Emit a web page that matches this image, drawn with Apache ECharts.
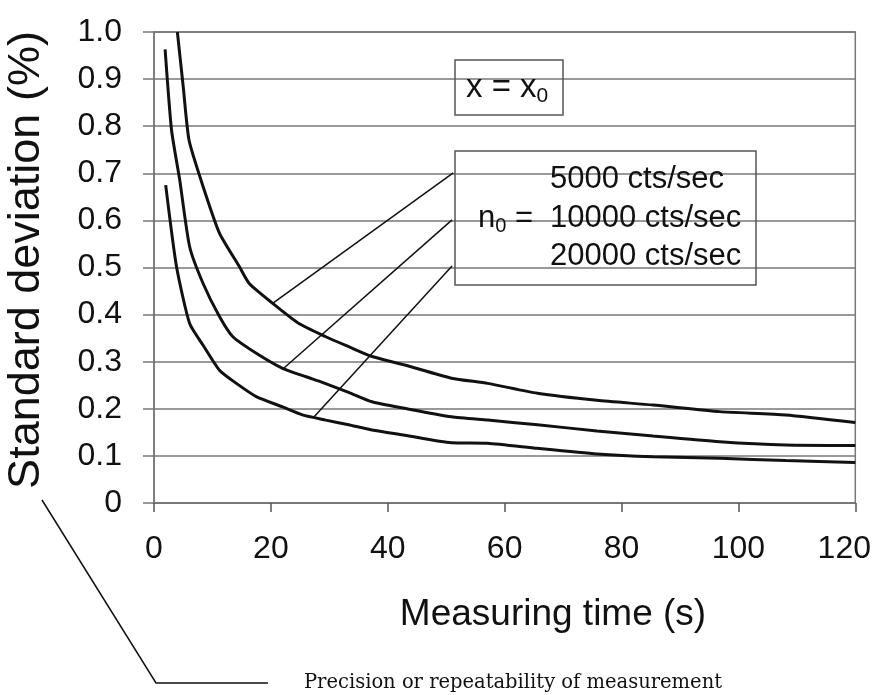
<!DOCTYPE html>
<html>
<head>
<meta charset="utf-8">
<script src="https://cdn.jsdelivr.net/npm/echarts@6/dist/echarts.min.js"></script>
<style>
  html, body { margin: 0; padding: 0; background: #fff; }
  #chart { width: 874px; height: 695px; }
</style>
</head>
<body>
<div id="chart"></div>
<script>
// 5000 cts/sec
let time5000 = [4, 5, 6, 8.4, 11.2, 14.6, 16.3, 20.3, 24.8, 29.4, 33.3, 37.3, 42.9, 50.9, 57.1, 65.6, 75.8, 85.4, 96.8, 108.1, 120];
let sd5000 = [1.0, 0.884, 0.77, 0.672, 0.573, 0.502, 0.466, 0.424, 0.381, 0.353, 0.332, 0.311, 0.293, 0.265, 0.254, 0.233, 0.218, 0.208, 0.194, 0.187, 0.171];

// 10000 cts/sec
let time10000 = [1.9, 3.0, 4.4, 6.1, 8.4, 11.2, 13.5, 17.5, 22, 26, 28.8, 33.3, 37.3, 42.9, 50.9, 57.1, 65.6, 75.8, 85.4, 96.8, 108.1, 120];
let sd10000 = [0.963, 0.792, 0.686, 0.544, 0.466, 0.396, 0.353, 0.318, 0.286, 0.268, 0.256, 0.235, 0.215, 0.201, 0.183, 0.176, 0.166, 0.153, 0.142, 0.130, 0.123, 0.122];

// 20000 cts/sec
let time20000 = [2.0, 3.85, 6.1, 8.4, 11.2, 14.1, 17.5, 22, 25.4, 29.4, 33.3, 37.3, 42.9, 50.9, 57.1, 65.6, 75.8, 85.4, 96.8, 108.1, 120];
let sd20000 = [0.675, 0.502, 0.381, 0.335, 0.282, 0.254, 0.226, 0.204, 0.187, 0.176, 0.166, 0.155, 0.144, 0.128, 0.127, 0.116, 0.104, 0.098, 0.095, 0.090, 0.086];

// leader lines from the legend box to each curve [from, to]
let leaders = [
    [[51.2, 0.701], [20.3, 0.424]],
    [[51.0, 0.601], [22.0, 0.284]],
    [[51.0, 0.503], [27.4, 0.183]]
];

let xTicks = [0, 20, 40, 60, 80, 100, 120];

let pair = (xs, ys) => xs.map((x, i) => [x, ys[i]]);

let lineSeries = (name, data) => ({
    name: name,
    type: 'line',
    data: data,
    showSymbol: false,
    smooth: 0.2,
    lineStyle: { color: '#111', width: 3 },
    z: 5
});

let font = 'Liberation Sans, Arial, sans-serif';

let option = {
    backgroundColor: '#fff',
    animation: false,
    grid: {
        left: 154, right: 14, top: 32, bottom: 192,
        show: true, borderColor: '#777', borderWidth: 1.5
    },
    xAxis: {
        type: 'value',
        min: 0, max: 120, interval: 20,
        axisLine: { show: true, lineStyle: { color: '#777', width: 1.5 } },
        axisTick: { show: true, length: 9, lineStyle: { color: '#555', width: 1.5 } },
        splitLine: { show: false },
        axisLabel: {
            margin: 30,
            fontSize: 32, color: '#111', fontFamily: font,
            formatter: v => v === xTicks[xTicks.length - 1] ? '{e|' + v + '}' : String(v),
            rich: { e: { fontSize: 32, color: '#111', fontFamily: font, padding: [0, 22, 0, 0] } }
        }
    },
    yAxis: {
        type: 'value',
        min: 0, max: 1, interval: 0.1,
        axisLine: { show: true, lineStyle: { color: '#777', width: 1.5 } },
        axisTick: { show: true, length: 11, lineStyle: { color: '#777', width: 1.5 } },
        splitLine: { show: true, lineStyle: { color: '#777', width: 1.5 } },
        axisLabel: {
            margin: 32,
            fontSize: 32, color: '#111', fontFamily: font,
            formatter: v => v === 0 ? '0' : v.toFixed(1)
        }
    },
    series: [
        lineSeries('5000 cts/sec', pair(time5000, sd5000)),
        lineSeries('10000 cts/sec', pair(time10000, sd10000)),
        lineSeries('20000 cts/sec', pair(time20000, sd20000)),
        {
            type: 'line',
            data: [],
            markLine: {
                silent: true,
                symbol: ['none', 'none'],
                label: { show: false },
                lineStyle: { color: '#111', width: 1.5, type: 'solid' },
                data: leaders.map(l => [{ coord: l[0] }, { coord: l[1] }])
            }
        }
    ],
    graphic: [
        // x = x0 box
        {
            type: 'rect', z: 10,
            shape: { x: 455, y: 60, width: 108, height: 55 },
            style: { fill: 'rgba(255,255,255,0)', stroke: '#555', lineWidth: 1.5 }
        },
        {
            type: 'text', z: 11, x: 466, y: 88,
            style: {
                text: '{a|x = x}{s|0}',
                textVerticalAlign: 'middle',
                rich: {
                    a: { fontSize: 33, fontFamily: font, fill: '#111' },
                    s: { fontSize: 21, fontFamily: font, fill: '#111', padding: [16, 0, 0, 0] }
                }
            }
        },
        // n0 legend box
        {
            type: 'rect', z: 10,
            shape: { x: 455, y: 151, width: 301, height: 134 },
            style: { fill: 'rgba(255,255,255,0)', stroke: '#555', lineWidth: 1.5 }
        },
        {
            type: 'text', z: 11, x: 550, y: 179,
            style: { text: '5000 cts/sec', fontSize: 31, fontFamily: font, fill: '#111', textVerticalAlign: 'middle' }
        },
        {
            type: 'text', z: 11, x: 550, y: 218,
            style: { text: '10000 cts/sec', fontSize: 31, fontFamily: font, fill: '#111', textVerticalAlign: 'middle' }
        },
        {
            type: 'text', z: 11, x: 550, y: 256,
            style: { text: '20000 cts/sec', fontSize: 31, fontFamily: font, fill: '#111', textVerticalAlign: 'middle' }
        },
        {
            type: 'text', z: 11, x: 478, y: 218,
            style: {
                text: '{a|n}{s|0}{a| =}',
                textVerticalAlign: 'middle',
                rich: {
                    a: { fontSize: 31, fontFamily: font, fill: '#111' },
                    s: { fontSize: 20, fontFamily: font, fill: '#111', padding: [16, 0, 0, 0] }
                }
            }
        },
        // axis titles
        {
            type: 'text', x: 27, y: 260, rotation: Math.PI / 2,
            style: {
                text: 'Standard deviation (%)', fontSize: 45, fontFamily: font, fill: '#111',
                textAlign: 'center', textVerticalAlign: 'middle'
            }
        },
        {
            type: 'text', x: 553, y: 615,
            style: {
                text: 'Measuring time (s)', fontSize: 37, fontFamily: font, fill: '#111',
                textAlign: 'center', textVerticalAlign: 'middle'
            }
        },
        // callout below the chart
        {
            type: 'polyline',
            shape: { points: [[42, 500], [156, 683], [268, 683]] },
            style: { stroke: '#111', lineWidth: 1.5, fill: null }
        },
        {
            type: 'text', x: 304, y: 683,
            style: {
                text: 'Precision or repeatability of measurement', fontSize: 19.5,
                fontFamily: 'DejaVu Serif, serif', fill: '#111', textVerticalAlign: 'middle'
            }
        }
    ]
};

let chart = echarts.init(document.getElementById('chart'));
chart.setOption(option, true);
</script>
</body>
</html>
